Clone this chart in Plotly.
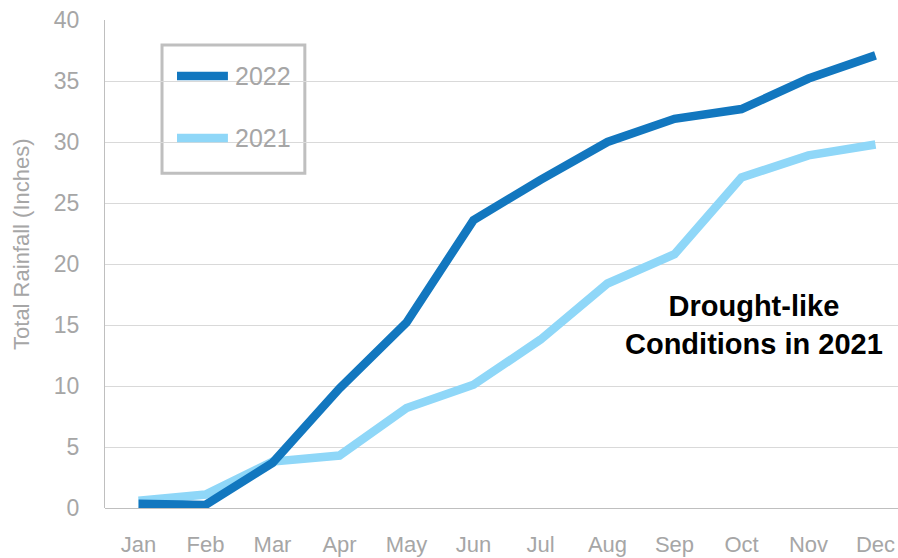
import plotly.graph_objects as go

# Cumulative monthly rainfall totals (inches)
months = ["Jan", "Feb", "Mar", "Apr", "May", "Jun",
          "Jul", "Aug", "Sep", "Oct", "Nov", "Dec"]
rain_2022 = [0.35, 0.25, 3.7, 9.8, 15.2, 23.6, 26.9, 30.0, 31.9, 32.7, 35.2, 37.1]
rain_2021 = [0.6, 1.1, 3.8, 4.3, 8.2, 10.1, 13.8, 18.4, 20.8, 27.1, 28.9, 29.8]
y_ticks = [0, 5, 10, 15, 20, 25, 30, 35, 40]

DARK = "#1277BF"
LIGHT = "#8FD7F8"
GRAY_TXT = "#A6A6A6"
FONT = "Liberation Sans, Arial, sans-serif"

fig = go.Figure()
fig.add_trace(go.Scatter(x=list(range(len(months))), y=rain_2021, mode="lines",
                         name="2021", line=dict(color=LIGHT, width=8.5)))
fig.add_trace(go.Scatter(x=list(range(len(months))), y=rain_2022, mode="lines",
                         name="2022", line=dict(color=DARK, width=8.5)))

# Legend box drawn with shapes
fig.add_shape(type="rect", xref="paper", yref="paper",
              x0=0.0719, x1=0.252, y0=0.686, y1=0.949,
              line=dict(color="#BFBFBF", width=3), fillcolor="white", layer="below")
for yy, col, lab in [(0.885, DARK, "2022"), (0.758, LIGHT, "2021")]:
    fig.add_shape(type="line", xref="paper", yref="paper",
                  x0=0.0908, x1=0.155, y0=yy, y1=yy,
                  line=dict(color=col, width=8.5))
    fig.add_annotation(xref="paper", yref="paper", x=0.162, y=yy, text=lab,
                       showarrow=False, xanchor="left", yanchor="middle",
                       font=dict(size=25, color=GRAY_TXT, family=FONT))

fig.add_annotation(x=9.19, y=15.0, xref="x", yref="y",
                   text="<b>Drought-like<br>Conditions in 2021</b>",
                   showarrow=False, align="center",
                   font=dict(size=29, color="black", family=FONT))

# Y-axis title
fig.add_annotation(xref="paper", yref="paper", x=-0.1047, y=0.541,
                   text="Total Rainfall (Inches)", textangle=-90,
                   showarrow=False, xanchor="center", yanchor="middle",
                   font=dict(size=22, color=GRAY_TXT, family=FONT))

fig.update_layout(
    width=898, height=558,
    margin=dict(l=105, r=0, t=20, b=50),
    paper_bgcolor="white", plot_bgcolor="white",
    showlegend=False,
    font=dict(family=FONT, color=GRAY_TXT, size=22),
)
fig.update_xaxes(
    range=[-0.5, 11.336],
    tickmode="array", tickvals=list(range(len(months))), ticktext=months,
    showgrid=False, zeroline=False,
    showline=False,
    ticks="", ticklabelstandoff=21,
    tickfont=dict(size=22, color=GRAY_TXT, family=FONT),
)
fig.update_yaxes(
    range=[0, 40], tickvals=y_ticks,
    showgrid=True, gridcolor="#D9D9D9", gridwidth=1.3,
    zeroline=True, zerolinecolor="#BFBFBF", zerolinewidth=1.3,
    showline=True, linecolor="#BFBFBF", linewidth=1.3,
    ticks="", ticklabelstandoff=20,
    tickfont=dict(size=23, color=GRAY_TXT, family=FONT),
)

fig.write_html("out.html")
